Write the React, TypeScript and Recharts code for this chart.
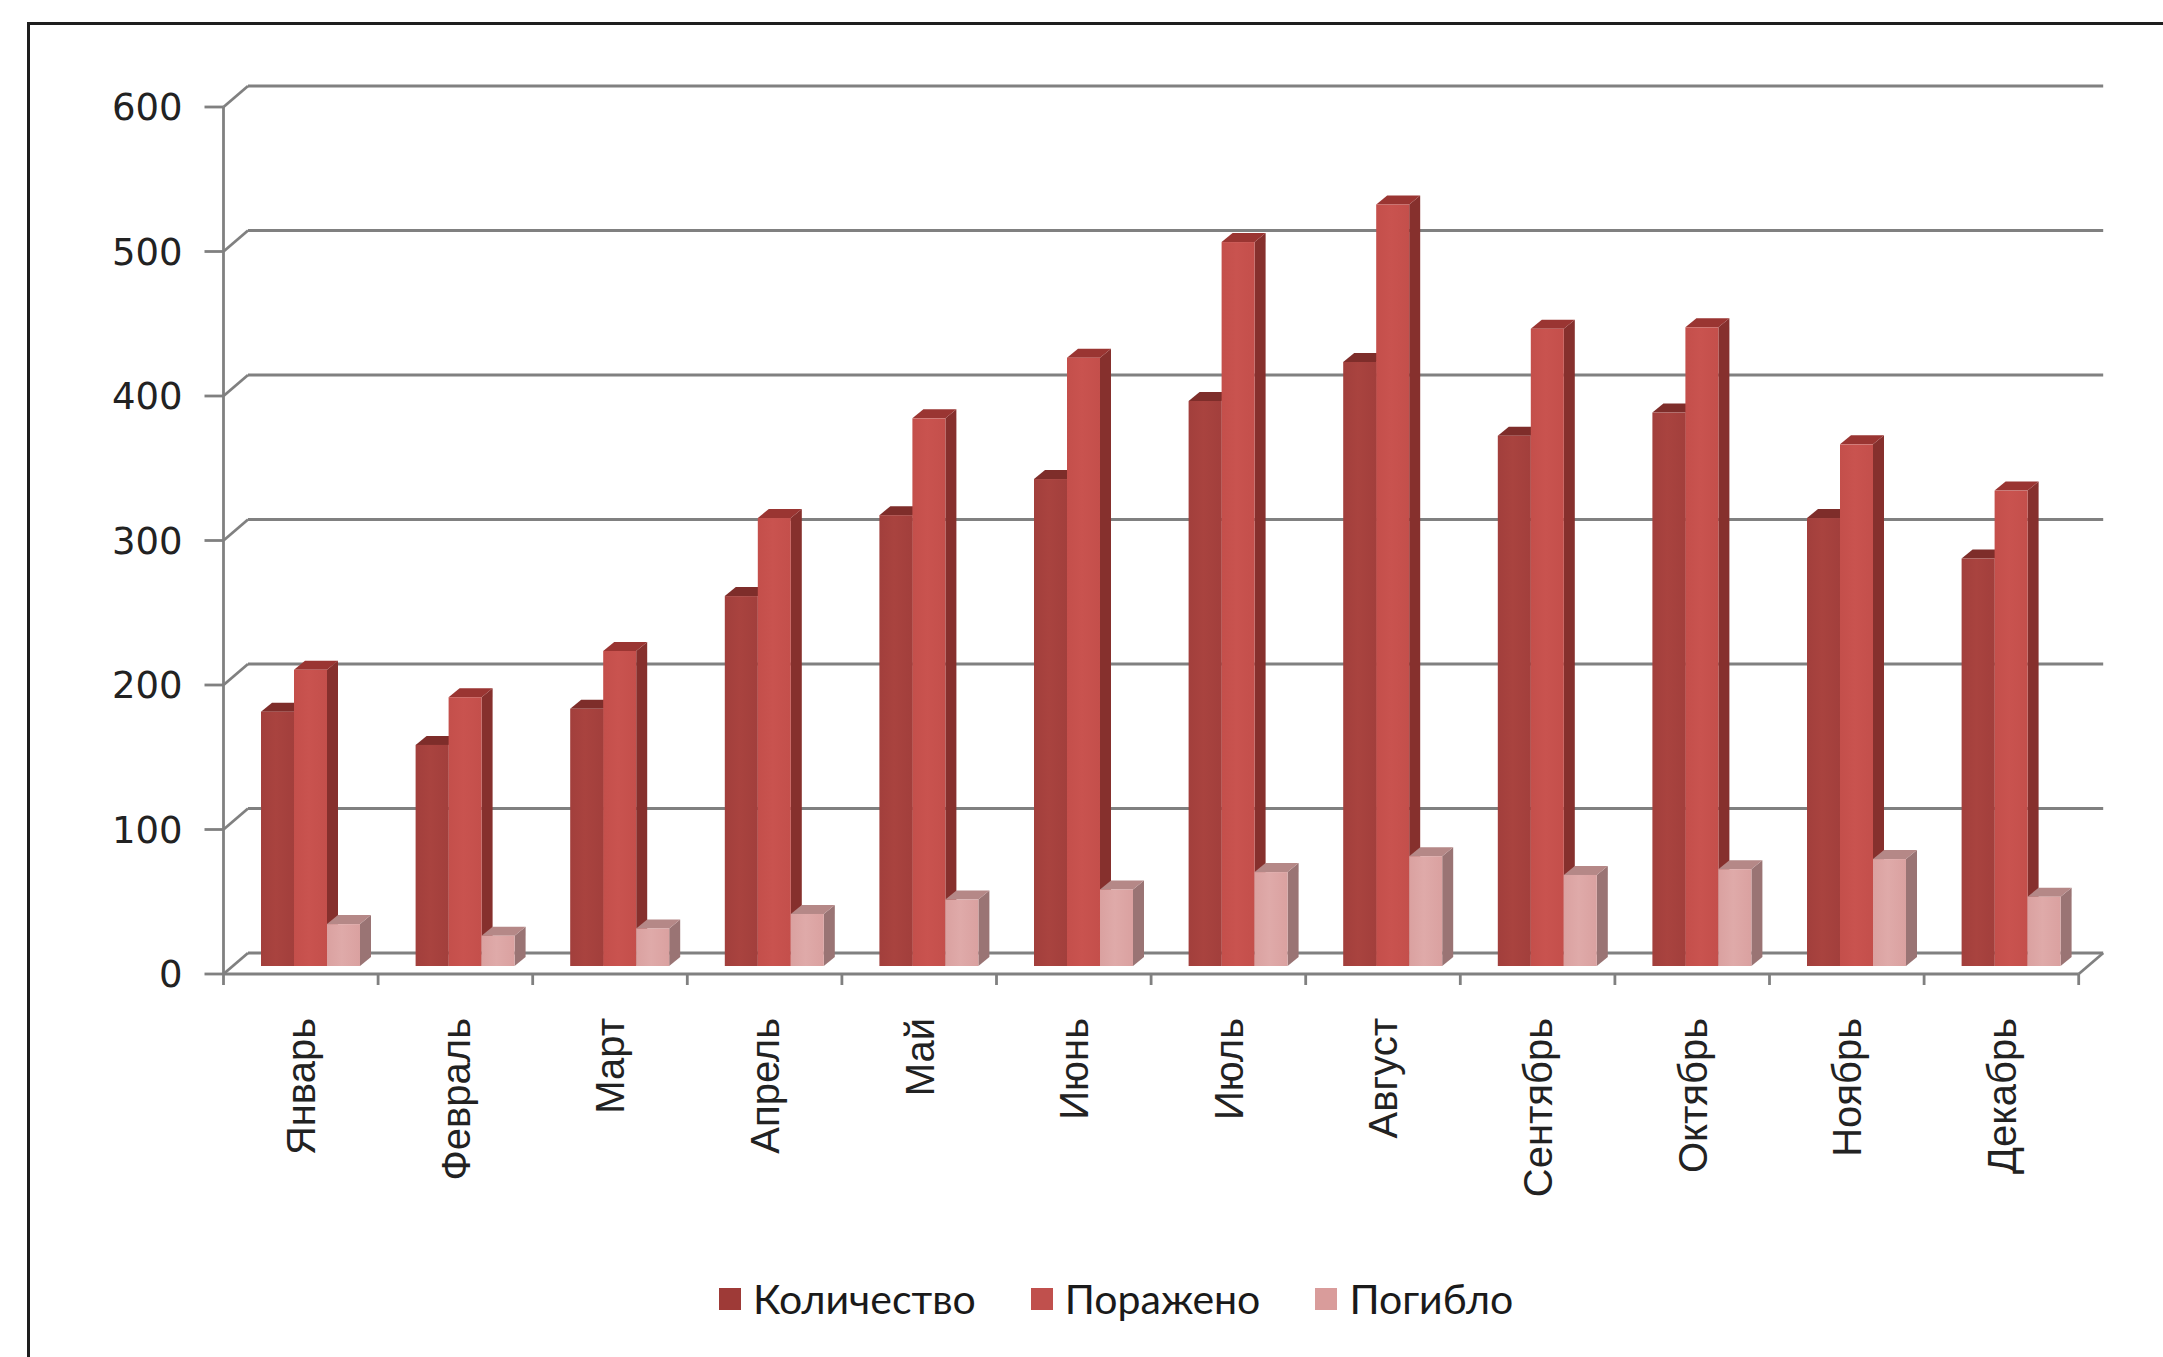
import { BarChart, Bar, XAxis, YAxis, CartesianGrid } from 'recharts'

// Monthly statistics
const months = ['Январь', 'Февраль', 'Март', 'Апрель', 'Май', 'Июнь', 'Июль', 'Август', 'Сентябрь', 'Октябрь', 'Ноябрь', 'Декабрь']
const kolichestvo = [176, 153, 178, 256, 312, 337, 391, 418, 367, 383, 310, 282]
const porazheno = [205, 186, 218, 310, 379, 421, 501, 527, 441, 442, 361, 329]
const pogiblo = [29, 21, 26, 36, 46, 53, 65, 76, 63, 67, 74, 48]
const yTicks = [0, 100, 200, 300, 400, 500, 600]

const SERIES = [
  { key: 'kol', name: 'Количество', front: '#A23F3C', light: '#A9433F', side: '#73302D', top: '#7E2D2A', swatch: '#9E3A37' },
  { key: 'por', name: 'Поражено', front: '#C44F4B', light: '#C9534F', side: '#86302D', top: '#9A3532', swatch: '#C0504D' },
  { key: 'pog', name: 'Погибло', front: '#DAA1A0', light: '#DFAAA9', side: '#9A7474', top: '#B58887', swatch: '#D99C9B' },
]

const chartData = months.map((m, i) => ({
  month: m,
  kol: kolichestvo[i],
  por: porazheno[i],
  pog: pogiblo[i],
}))

// layout of the front plane
const W = 2163
const H = 1357
const PLOT_LEFT = 223.5
const PLOT_RIGHT = 2078.7
const PLOT_TOP = 107
const PLOT_BOTTOM = 974
const Y_AXIS_W = 120
const X_AXIS_H = 230
const BAND = (PLOT_RIGHT - PLOT_LEFT) / months.length

// 3d offsets: bar row sits behind the front plane, back wall further back
const ROW_DX = 9
const ROW_DY = 8
const WALL_DX = 24.5
const WALL_DY = 21
const DEPTH_X = 11
const DEPTH_Y = 9

const GRID = '#808080'
const GRID_W = 2.8
const TEXT = '#222'

function Bar3D(props: any) {
  const { x, y, width, height, s } = props
  if (!height || height <= 0) return null
  const bx = x + ROW_DX
  const by = y - ROW_DY
  const r = bx + width
  return (
    <g>
      <polygon
        points={`${r},${by} ${r + DEPTH_X},${by - DEPTH_Y} ${r + DEPTH_X},${by + height - DEPTH_Y} ${r},${by + height}`}
        fill={s.side}
      />
      <polygon
        points={`${bx},${by} ${bx + DEPTH_X},${by - DEPTH_Y} ${r + DEPTH_X},${by - DEPTH_Y} ${r},${by}`}
        fill={s.top}
      />
      <rect x={bx} y={by} width={width} height={height} fill={`url(#grad-${s.key})`} />
    </g>
  )
}

// gridline: diagonal from the front axis back to the wall, then along the wall
function WallLine(props: any) {
  const { x1, y1, x2, y2 } = props
  const isFloor = Math.abs(y1 - PLOT_BOTTOM) < 1
  return (
    <g>
      <line x1={x1} y1={y1} x2={x1 + WALL_DX} y2={y1 - WALL_DY} stroke={GRID} strokeWidth={GRID_W} />
      <line x1={x1 + WALL_DX} y1={y1 - WALL_DY} x2={x2 + WALL_DX} y2={y2 - WALL_DY} stroke={GRID} strokeWidth={GRID_W} />
      {isFloor && (
        <line x1={x2} y1={y2} x2={x2 + WALL_DX} y2={y2 - WALL_DY} stroke={GRID} strokeWidth={GRID_W} />
      )}
    </g>
  )
}

function MonthTick(props: any) {
  const { x, payload, index } = props
  const half = BAND / 2
  const labelY = PLOT_BOTTOM + 44
  return (
    <g>
      <line x1={x - half} y1={PLOT_BOTTOM} x2={x - half} y2={PLOT_BOTTOM + 11} stroke={GRID} strokeWidth={GRID_W} />
      {index === months.length - 1 && (
        <line x1={x + half} y1={PLOT_BOTTOM} x2={x + half} y2={PLOT_BOTTOM + 11} stroke={GRID} strokeWidth={GRID_W} />
      )}
      <text
        x={x}
        y={labelY}
        dy="0.36em"
        textAnchor="end"
        transform={`rotate(-90, ${x}, ${labelY})`}
        fontFamily="'Liberation Sans', Arial, sans-serif"
        fontSize={40}
        fill={TEXT}
      >
        {payload.value}
      </text>
    </g>
  )
}

function Legend3() {
  return (
    <div
      style={{
        position: 'absolute',
        left: 719,
        top: 1274,
        display: 'flex',
        alignItems: 'center',
        fontFamily: "Lato, 'Open Sans', sans-serif",
        fontSize: 41,
        color: '#1a1a1a',
        whiteSpace: 'nowrap',
      }}
    >
      {SERIES.map((s) => (
        <div key={s.key} style={{ display: 'flex', alignItems: 'center', marginRight: 55 }}>
          <span style={{ width: 22, height: 22, background: s.swatch, display: 'inline-block', marginRight: 12 }} />
          <span>{s.name}</span>
        </div>
      ))}
    </div>
  )
}

export default function App() {
  return (
    <div style={{ position: 'absolute', left: 0, top: 0, width: W, height: H, background: '#fff', overflow: 'hidden' }}>
      <div
        style={{
          position: 'absolute',
          left: 27,
          top: 22,
          width: W,
          height: H,
          borderLeft: '3px solid #1e1e1e',
          borderTop: '3px solid #1e1e1e',
        }}
      />
      <div style={{ position: 'absolute', left: 0, top: 0 }}>
        <BarChart
          width={W}
          height={H}
          data={chartData}
          margin={{ top: PLOT_TOP, right: W - PLOT_RIGHT, bottom: H - PLOT_BOTTOM - X_AXIS_H, left: PLOT_LEFT - Y_AXIS_W }}
          barCategoryGap={28.5}
          barGap={0}
        >
          <defs>
            {SERIES.map((s) => (
              <linearGradient key={s.key} id={`grad-${s.key}`} x1="0" y1="0" x2="1" y2="0">
                <stop offset="0%" stopColor={s.front} />
                <stop offset="45%" stopColor={s.light} />
                <stop offset="100%" stopColor={s.front} />
              </linearGradient>
            ))}
          </defs>
          <CartesianGrid vertical={false} horizontal={(p: any) => <WallLine {...p} />} />
          <XAxis
            dataKey="month"
            height={X_AXIS_H}
            interval={0}
            tickLine={false}
            axisLine={{ stroke: GRID, strokeWidth: GRID_W }}
            tick={<MonthTick />}
          />
          <YAxis
            width={Y_AXIS_W}
            domain={[0, 600]}
            ticks={yTicks}
            interval={0}
            tickSize={19}
            tickMargin={22}
            axisLine={{ stroke: GRID, strokeWidth: GRID_W }}
            tickLine={{ stroke: GRID, strokeWidth: GRID_W }}
            tick={{ fontFamily: "'DejaVu Sans', Verdana, sans-serif", fontSize: 37, fill: TEXT }}
          />
          {SERIES.map((s) => (
            <Bar
              key={s.key}
              dataKey={s.key}
              name={s.name}
              fill={s.front}
              isAnimationActive={false}
              shape={(p: any) => <Bar3D {...p} s={s} />}
            />
          ))}
        </BarChart>
      </div>
      <Legend3 />
    </div>
  )
}
